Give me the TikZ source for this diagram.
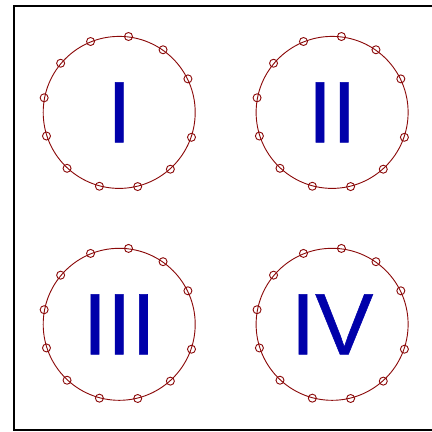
\documentclass[tikz,border=0pt]{standalone}
\usepackage{fontspec}
\setsansfont{Liberation Sans}
\newfontfamily\numfont[FakeBold=0.6]{Liberation Sans}
\usepackage{tikz}
\usetikzlibrary{positioning}
\definecolor{ringred}{HTML}{8B0A0A}
\definecolor{numblue}{HTML}{0000AA}
\tikzset{
  ring/.style={circle, draw=ringred, line width=0.65pt, minimum size=3.8cm, inner sep=0pt, text=numblue, font=\numfont\fontsize{62}{62}\selectfont},
  bead/.style={circle, draw=ringred, line width=0.65pt, minimum size=0.2cm, inner sep=0pt},
  frame/.style={draw=black, line width=1.5pt}
}
\begin{document}
\begin{tikzpicture}[node distance=1.5cm]
  \clip (0,0) rectangle (10.8,10.8);
  \draw[frame] (0.34,0.06) rectangle (11.5,10.65);
  \node[ring] (ringI) at (2.98,7.99) {I};
  \node[ring, right=of ringI] (ringII) {II};
  \node[ring, below=1.475cm of ringI] (ringIII) {III};
  \node[ring, right=of ringIII] (ringIV) {IV};
  % beads round each ring
  \foreach \r in {ringI,ringII,ringIII,ringIV}
    \foreach \a in {83,55,26,-19,-48,-76,-105,-133,-162,169,140,112}
      \node[bead] (\r-\a) at (\r.\a) {};
\end{tikzpicture}
\end{document}
